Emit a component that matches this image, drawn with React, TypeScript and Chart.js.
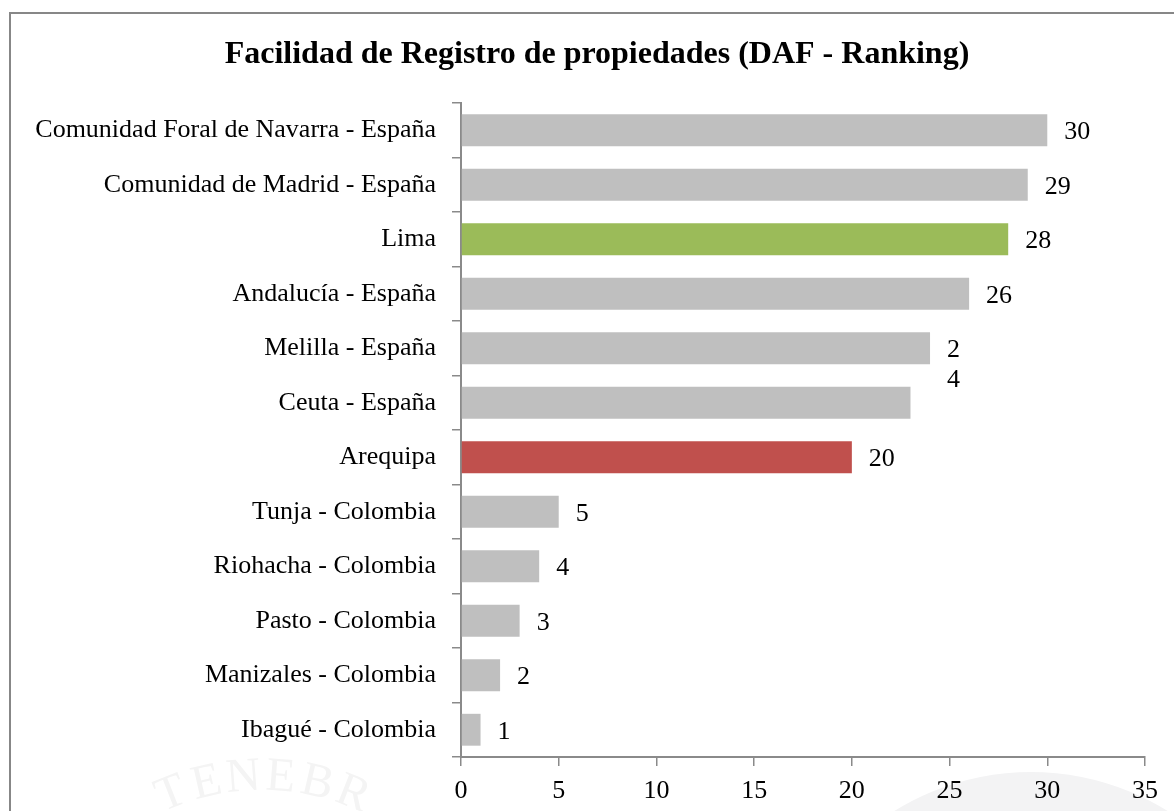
import React, { useEffect, useRef } from "react";
import { Chart, registerables } from "chart.js";

Chart.register(...registerables);

const titleText = "Facilidad de Registro de propiedades (DAF - Ranking)";

const categories = [
  "Comunidad Foral de Navarra - España",
  "Comunidad de Madrid - España",
  "Lima",
  "Andalucía - España",
  "Melilla - España",
  "Ceuta - España",
  "Arequipa",
  "Tunja - Colombia",
  "Riohacha - Colombia",
  "Pasto - Colombia",
  "Manizales - Colombia",
  "Ibagué - Colombia",
];

const values = [30, 29, 28, 26, 24, 23, 20, 5, 4, 3, 2, 1];

const barColors = [
  "#BFBFBF",
  "#BFBFBF",
  "#9BBB59",
  "#BFBFBF",
  "#BFBFBF",
  "#BFBFBF",
  "#C0504D",
  "#BFBFBF",
  "#BFBFBF",
  "#BFBFBF",
  "#BFBFBF",
  "#BFBFBF",
];

const xTickValues = [0, 5, 10, 15, 20, 25, 30, 35];

// value labels that are not shown / wrapped one character per line in the original
const hiddenValueLabels = ["Ceuta - España"];
const wrappedValueLabels = ["Melilla - España"];

const watermarkLetters = ["T", "E", "N", "E", "B", "R"];

const FONT = "'Liberation Serif', 'Times New Roman', serif";
const AXIS_COLOR = "#8a8a8a";

export default function App() {
  const ref = useRef<HTMLCanvasElement | null>(null);

  useEffect(() => {
    if (!ref.current) return;

    const framePlugin = {
      id: "frameAndTitle",
      beforeDraw(chart: any) {
        const ctx = chart.ctx;
        ctx.save();
        ctx.fillStyle = "#ffffff";
        ctx.fillRect(0, 0, chart.width, chart.height);
        // faint watermark
        ctx.fillStyle = "#f3f3f4";
        ctx.beginPath();
        ctx.arc(1031, 1031, 259, 0, Math.PI * 2);
        ctx.fill();
        ctx.fillStyle = "#f4f4f4";
        ctx.font = `48px ${FONT}`;
        ctx.textAlign = "center";
        ctx.textBaseline = "alphabetic";
        const cx = 262;
        const cy = 1025;
        const r = 235;
        watermarkLetters.forEach((ch, i) => {
          const ang = -Math.PI / 2 + (i - 2.5) * 0.15;
          const x = cx + r * Math.cos(ang);
          const y = cy + r * Math.sin(ang);
          ctx.save();
          ctx.translate(x, y);
          ctx.rotate(ang + Math.PI / 2);
          ctx.fillText(ch, 0, 0);
          ctx.restore();
        });
        // frame
        ctx.strokeStyle = "#878787";
        ctx.lineWidth = 2;
        ctx.beginPath();
        ctx.moveTo(10, chart.height + 2);
        ctx.lineTo(10, 13);
        ctx.lineTo(chart.width + 2, 13);
        ctx.stroke();
        ctx.restore();
      },
      afterDraw(chart: any) {
        const ctx = chart.ctx;
        ctx.save();
        ctx.fillStyle = "#000000";
        ctx.font = `bold 32px ${FONT}`;
        ctx.textAlign = "center";
        ctx.textBaseline = "alphabetic";
        ctx.fillText(titleText, 597, 63);
        ctx.restore();
      },
    };

    const valueLabelPlugin = {
      id: "valueLabels",
      afterDatasetsDraw(chart: any) {
        const ctx = chart.ctx;
        const meta = chart.getDatasetMeta(0);
        ctx.save();
        ctx.fillStyle = "#000000";
        ctx.font = `26px ${FONT}`;
        ctx.textAlign = "left";
        ctx.textBaseline = "alphabetic";
        meta.data.forEach((bar: any, i: number) => {
          const cat = categories[i];
          if (hiddenValueLabels.includes(cat)) return;
          const text = String(values[i]);
          const lines = wrappedValueLabels.includes(cat) ? text.split("") : [text];
          lines.forEach((ln, j) => {
            ctx.fillText(ln, bar.x + 17, bar.y + 9 + j * 29.5);
          });
        });
        ctx.restore();
      },
    };

    const chart = new Chart(ref.current, {
      type: "bar",
      data: {
        labels: categories,
        datasets: [
          {
            data: values,
            backgroundColor: barColors,
            borderWidth: 0,
            barPercentage: 0.585,
            categoryPercentage: 1,
          },
        ],
      },
      options: {
        indexAxis: "y",
        responsive: false,
        animation: false,
        devicePixelRatio: 1,
        layout: { padding: { top: 103, right: 29, bottom: 0, left: 0 } },
        plugins: {
          legend: { display: false },
          title: { display: false },
          tooltip: { enabled: false },
        },
        scales: {
          x: {
            type: "linear",
            min: 0,
            max: 35,
            afterBuildTicks: (scale: any) => {
              scale.ticks = xTickValues.map((v) => ({ value: v }));
            },
            ticks: {
              color: "#000000",
              font: { family: FONT, size: 26 },
              padding: 10,
              maxRotation: 0,
            },
            grid: {
              drawOnChartArea: false,
              drawTicks: true,
              tickLength: 9,
              color: AXIS_COLOR,
              lineWidth: 1.5,
            },
            border: { color: AXIS_COLOR, width: 2 },
            afterFit: (scale: any) => {
              scale.height = 54;
            },
          },
          y: {
            type: "category",
            ticks: {
              color: "#000000",
              font: { family: FONT, size: 26 },
              padding: 16,
              autoSkip: false,
            },
            grid: {
              drawOnChartArea: false,
              drawTicks: true,
              tickLength: 9,
              offset: true,
              color: AXIS_COLOR,
              lineWidth: 1.5,
            },
            border: { color: AXIS_COLOR, width: 2 },
            afterFit: (scale: any) => {
              scale.width = 461;
            },
          },
        },
      },
      plugins: [framePlugin, valueLabelPlugin],
    } as any);

    return () => {
      chart.destroy();
    };
  }, []);

  return (
    <div style={{ position: "fixed", left: 0, top: 0, width: 1174, height: 811, background: "#fff" }}>
      <canvas ref={ref} width={1174} height={811} style={{ display: "block" }} />
    </div>
  );
}
